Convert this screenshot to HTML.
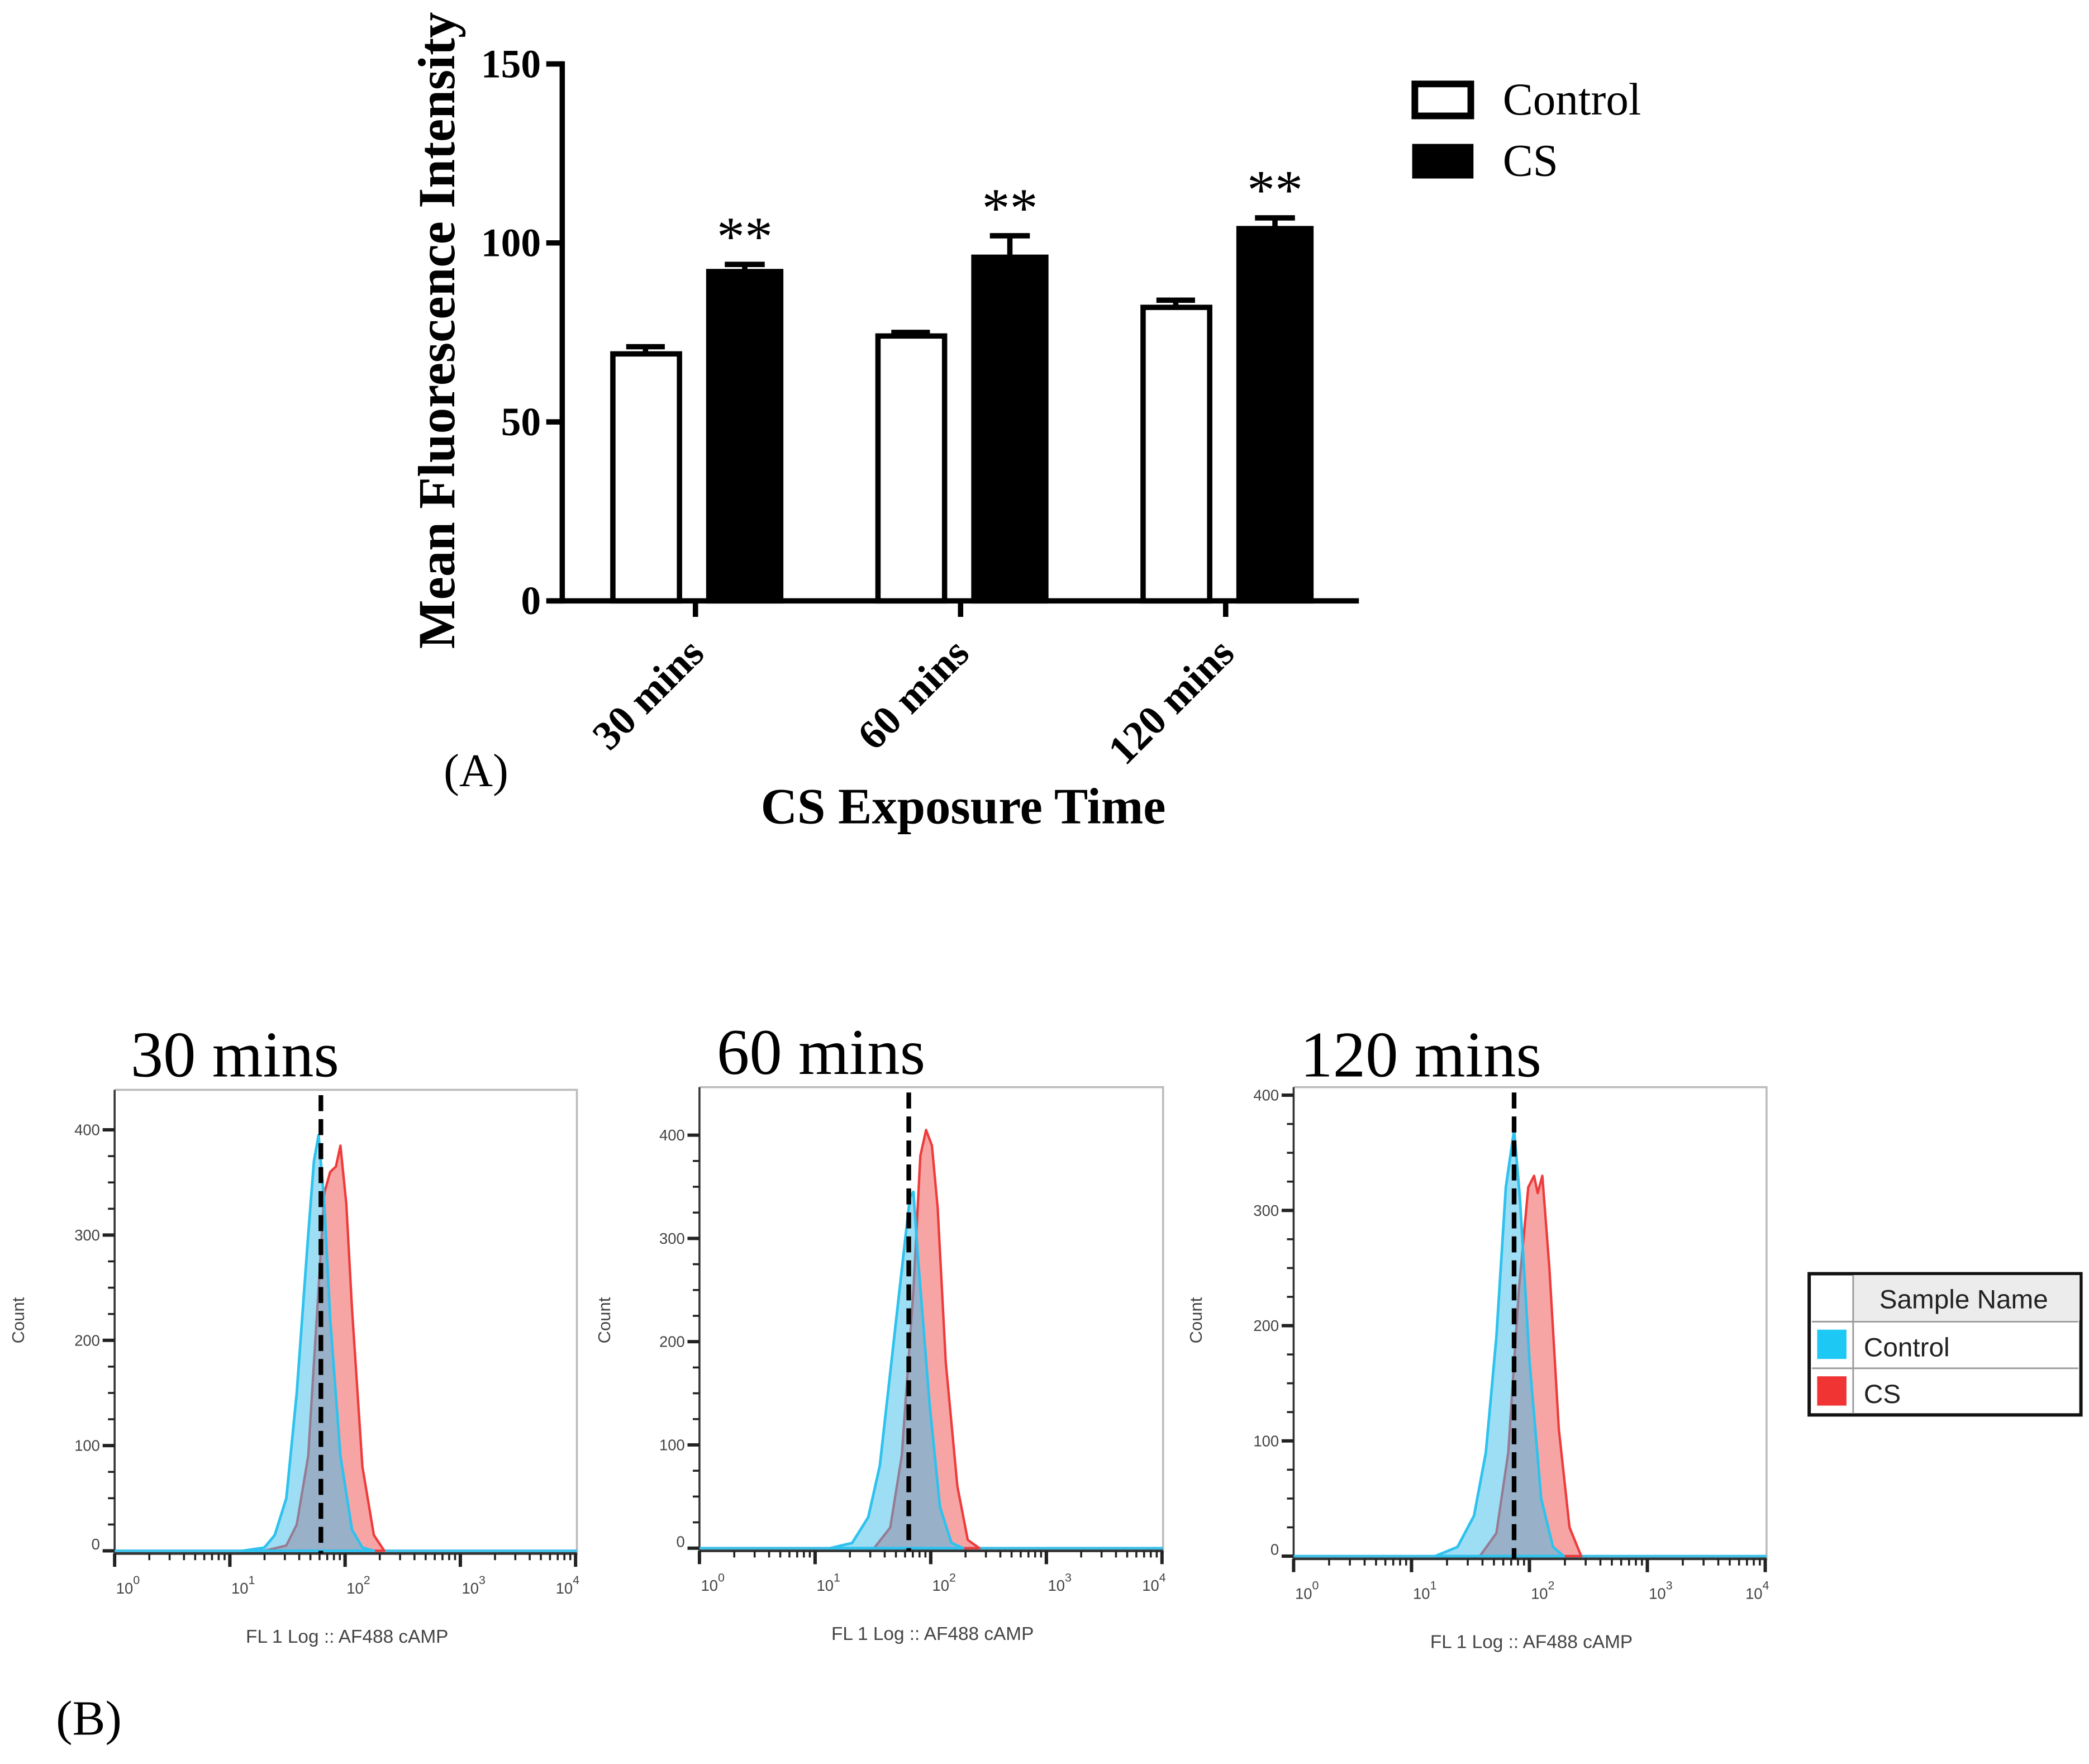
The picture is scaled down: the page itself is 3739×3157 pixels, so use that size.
<!DOCTYPE html>
<html><head><meta charset="utf-8"><style>
html,body{margin:0;padding:0;background:#fff;}
svg{display:block;}
</style></head><body>
<svg id="fig" xmlns="http://www.w3.org/2000/svg" width="3739" height="3157" viewBox="0 0 1568 1324">
<rect x="0" y="0" width="1568" height="1324" fill="#fff"/>
</svg>
<script>
// ---- Bar chart data (A) ----
const categories = ["30 mins", "60 mins", "120 mins"];
const controlVals = [69, 74, 82];
const controlErr = [2, 1, 2];
const csVals = [92, 96, 104];
const csErr = [2, 6, 3];
const yTicks = [0, 50, 100, 150];

// ---- Histogram data (B): [log10 intensity, count] ----
const panelTitles = ["30 mins", "60 mins", "120 mins"];
const countTicks = [0, 100, 200, 300, 400];
const decadeTicks = [0, 1, 2, 3, 4];
const control1 = [[1.11,0],[1.30,3],[1.39,15],[1.49,50],[1.58,150],[1.68,300],[1.73,370],[1.77,395],[1.82,330],[1.87,220],[1.96,90],[2.06,20],[2.15,3],[2.25,0]];
const cs1 = [[1.30,0],[1.49,5],[1.58,25],[1.68,90],[1.77,250],[1.82,340],[1.87,360],[1.92,365],[1.96,385],[2.01,330],[2.06,230],[2.15,80],[2.25,15],[2.34,0]];
const control2 = [[1.13,0],[1.32,5],[1.46,30],[1.56,80],[1.65,170],[1.75,270],[1.82,340],[1.85,345],[1.89,280],[1.99,140],[2.08,40],[2.18,5],[2.28,0]];
const cs2 = [[1.51,0],[1.65,20],[1.75,90],[1.85,250],[1.91,380],[1.96,405],[2.01,390],[2.06,330],[2.13,180],[2.23,60],[2.32,8],[2.42,0]];
const control3 = [[1.20,0],[1.39,8],[1.53,35],[1.63,90],[1.72,190],[1.80,320],[1.87,370],[1.92,310],[2.00,170],[2.10,50],[2.20,8],[2.29,0]];
const cs3 = [[1.58,0],[1.72,20],[1.82,90],[1.91,230],[1.99,320],[2.04,330],[2.07,315],[2.11,330],[2.17,250],[2.25,110],[2.34,25],[2.44,0]];
const gateLog = [1.79, 1.81, 1.87];

const NS = "http://www.w3.org/2000/svg";
const svg = document.getElementById("fig");
function mk(tag, attrs, parent, text) {
  const e = document.createElementNS(NS, tag);
  for (const k in attrs) e.setAttribute(k, attrs[k]);
  if (text !== undefined) e.textContent = text;
  (parent || svg).appendChild(e);
  return e;
}
const SERIF = '"Liberation Serif", serif';
const SANS = '"Liberation Sans", sans-serif';

// ===== Panel A =====
const gA = mk("g", {});


const yA = v => 451 - v * 403 / 150;
const xc = i => 522 + 199 * i;

let el = mk("line", {x1:422, y1:46, x2:422, y2:453, stroke:"#000", "stroke-width":4}, gA);


el = mk("line", {x1:412, y1:451, x2:1020, y2:451, stroke:"#000", "stroke-width":4}, gA);


yTicks.forEach(t => {
  const tk = mk("line", {x1:410, y1:yA(t), x2:422, y2:yA(t), stroke:"#000", "stroke-width":4}, gA);
  
  
  const lb = mk("text", {x:406, y:yA(t)+10, "text-anchor":"end", "font-family":SERIF, "font-weight":"bold", "font-size":30}, gA, String(t));
  
  
});
categories.forEach((c, i) => {
  const cx = xc(i);
  const tk = mk("line", {x1:cx, y1:451, x2:cx, y2:463, stroke:"#000", "stroke-width":4}, gA);
  
  
  const lb = mk("text", {x:cx+8, y:492, "text-anchor":"end", "font-family":SERIF, "font-weight":"bold", "font-size":31, transform:`rotate(-45 ${cx+8} 492)`}, gA, c);
  
  
  const ct = yA(controlVals[i]);
  const ce = mk("line", {x1:cx-37.5, y1:ct, x2:cx-37.5, y2:yA(controlVals[i]+controlErr[i]), stroke:"#000", "stroke-width":4}, gA);
  
  
  const cc = mk("line", {x1:cx-52, y1:yA(controlVals[i]+controlErr[i]), x2:cx-23, y2:yA(controlVals[i]+controlErr[i]), stroke:"#000", "stroke-width":4}, gA);
  
  
  const cb = mk("rect", {x:cx-62, y:ct, width:50, height:451-ct, fill:"#fff", stroke:"#000", "stroke-width":4}, gA);
  
  
  const st = yA(csVals[i]);
  const se = mk("line", {x1:cx+37, y1:st, x2:cx+37, y2:yA(csVals[i]+csErr[i]), stroke:"#000", "stroke-width":4}, gA);
  
  
  const sc = mk("line", {x1:cx+22, y1:yA(csVals[i]+csErr[i]), x2:cx+52, y2:yA(csVals[i]+csErr[i]), stroke:"#000", "stroke-width":4}, gA);
  
  
  const sb = mk("rect", {x:cx+10, y:st, width:54, height:451-st, fill:"#000", stroke:"#000", "stroke-width":4}, gA);
  
  
  const star = mk("text", {x:cx+37, y:yA(csVals[i]+csErr[i])-7, "text-anchor":"middle", "font-family":SERIF, "font-size":42}, gA, "**");
  
  
});
el = mk("text", {x:341, y:248, "text-anchor":"middle", "font-family":SERIF, "font-weight":"bold", "font-size":39, transform:"rotate(-90 341 248)"}, gA, "Mean Fluorescence Intensity");


el = mk("text", {x:723, y:618, "text-anchor":"middle", "font-family":SERIF, "font-weight":"bold", "font-size":38}, gA, "CS Exposure Time");


el = mk("text", {x:333, y:590, "font-family":SERIF, "font-size":35}, gA, "(A)");


el = mk("rect", {x:1062, y:63, width:42, height:24, fill:"#fff", stroke:"#000", "stroke-width":5}, gA);


el = mk("text", {x:1128, y:86, "font-family":SERIF, "font-size":34}, gA, "Control");


el = mk("rect", {x:1060, y:108, width:46, height:26, fill:"#000"}, gA);


el = mk("text", {x:1128, y:132, "font-family":SERIF, "font-size":34}, gA, "CS");



// ===== Panel B =====
const panels = [
  {L:86, R:433, T:818, y0:1164, y400:848, x0:86, dec:86.5, ctrl:control1, cs:cs1, tx:98, ty:808, cntX:18},
  {L:525, R:873, T:816, y0:1162, y400:852, x0:525, dec:86.8, ctrl:control2, cs:cs2, tx:538, ty:806, cntX:458},
  {L:971, R:1326, T:816, y0:1168, y400:822, x0:971, dec:88.5, ctrl:control3, cs:cs3, tx:976, ty:808, cntX:902}
];
panels.forEach((p, i) => {
  const g = mk("g", {});
  
  
  const X = l => p.x0 + l * p.dec;
  const Y = c => p.y0 - c * (p.y0 - p.y400) / 400;
  const t = mk("text", {x:p.tx, y:p.ty, "font-family":SERIF, "font-size":49}, g, panelTitles[i]);
  
  
  const fr = mk("path", {d:`M${p.L} ${p.T} H${p.R} V${p.y0+3}`, fill:"none", stroke:"#bbb", "stroke-width":1.5}, g);
  
  
  const ya = mk("line", {x1:p.L, y1:p.T, x2:p.L, y2:p.y0+3, stroke:"#333", "stroke-width":1.5}, g);
  
  
  for (let c = 0; c <= 420; c += 25) {
    if (Y(c) < p.T) break;
    const major = c % 100 === 0;
    const tk = mk("line", {x1:p.L-(major?9:5), y1:Y(c), x2:p.L, y2:Y(c), stroke:"#222", "stroke-width":major?2.5:1.5}, g);
    
    
  }
  countTicks.forEach(c => {
    const lb = mk("text", {x:p.L-11, y:Y(c)+(c===0?-1:4), "text-anchor":"end", "font-family":SANS, "font-size":11.5, fill:"#444"}, g, String(c));
    
    
  });
  const xa = mk("line", {x1:p.L, y1:p.y0+2, x2:p.R, y2:p.y0+2, stroke:"#333", "stroke-width":2}, g);
  
  
  for (let d = 0; d < 4; d++) {
    for (let m = 1; m <= 10; m++) {
      const lx = X(d + Math.log10(m));
      const tk = mk("line", {x1:lx, y1:p.y0+2, x2:lx, y2:p.y0+(m===1||m===10?12:7), stroke:"#222", "stroke-width":m===1||m===10?2.5:1.5}, g);
      
      
    }
  }
  decadeTicks.forEach(d => {
    const lb = mk("text", {x:X(d)+(d===4?-6:10), y:p.y0+32, "text-anchor":"middle", "font-family":SANS, "font-size":11.5, fill:"#444"}, g);
    
    
    mk("tspan", {}, lb, "10");
    mk("tspan", {dy:-7, "font-size":9}, lb, String(d));
  });
  const cnt = mk("text", {x:p.cntX, y:991, "text-anchor":"middle", "font-family":SANS, "font-size":13, fill:"#444", transform:`rotate(-90 ${p.cntX} 991)`}, g, "Count");
  
  
  const xt = mk("text", {x:(p.L+p.R)/2+1, y:p.y0+69, "text-anchor":"middle", "font-family":SANS, "font-size":14, fill:"#444"}, g, "FL 1 Log :: AF488 cAMP");
  
  
  const toPath = pts => "M" + X(pts[0][0]) + " " + Y(0) + pts.map(q => ` L${X(q[0]).toFixed(1)} ${Y(q[1]).toFixed(1)}`).join("") + ` L${X(pts[pts.length-1][0])} ${Y(0)} Z`;
  const base = mk("line", {x1:p.L, y1:Y(0), x2:p.R, y2:Y(0), stroke:"#3cc0ea", "stroke-width":2}, g);
  
  
  const csP = mk("path", {d:toPath(p.cs), fill:"rgba(240,90,90,0.55)", stroke:"#ee3b3b", "stroke-width":1.8, "stroke-linejoin":"round"}, g);
  
  
  const ctP = mk("path", {d:toPath(p.ctrl), fill:"rgba(60,190,235,0.5)", stroke:"#2ec2ee", "stroke-width":2, "stroke-linejoin":"round"}, g);
  
  
  const gate = mk("line", {x1:X(gateLog[i]), y1:p.T+4, x2:X(gateLog[i]), y2:p.y0+2, stroke:"#000", "stroke-width":3.5, "stroke-dasharray":"12 6"}, g);
  
  
});
el = mk("text", {x:42, y:1302, "font-family":SERIF, "font-size":37}, svg, "(B)");



const lg = mk("g", {});


el = mk("rect", {x:1358, y:956, width:204, height:106, fill:"#fff", stroke:"#111", "stroke-width":2.5}, lg);


el = mk("rect", {x:1391, y:957, width:170, height:34, fill:"#ececec"}, lg);


el = mk("path", {d:"M1360 992 H1560 M1360 1027 H1560 M1391 957 V1061", stroke:"#999", "stroke-width":1.2, fill:"none"}, lg);


el = mk("text", {x:1474, y:982, "text-anchor":"middle", "font-family":SANS, "font-size":20, fill:"#222"}, lg, "Sample Name");


el = mk("rect", {x:1364, y:998, width:22, height:22, fill:"#1ec8f5"}, lg);


el = mk("text", {x:1399, y:1018, "font-family":SANS, "font-size":20, fill:"#222"}, lg, "Control");


el = mk("rect", {x:1364, y:1033, width:22, height:22, fill:"#f03434"}, lg);


el = mk("text", {x:1399, y:1053, "font-family":SANS, "font-size":20, fill:"#222"}, lg, "CS");


</script>
</body></html>
